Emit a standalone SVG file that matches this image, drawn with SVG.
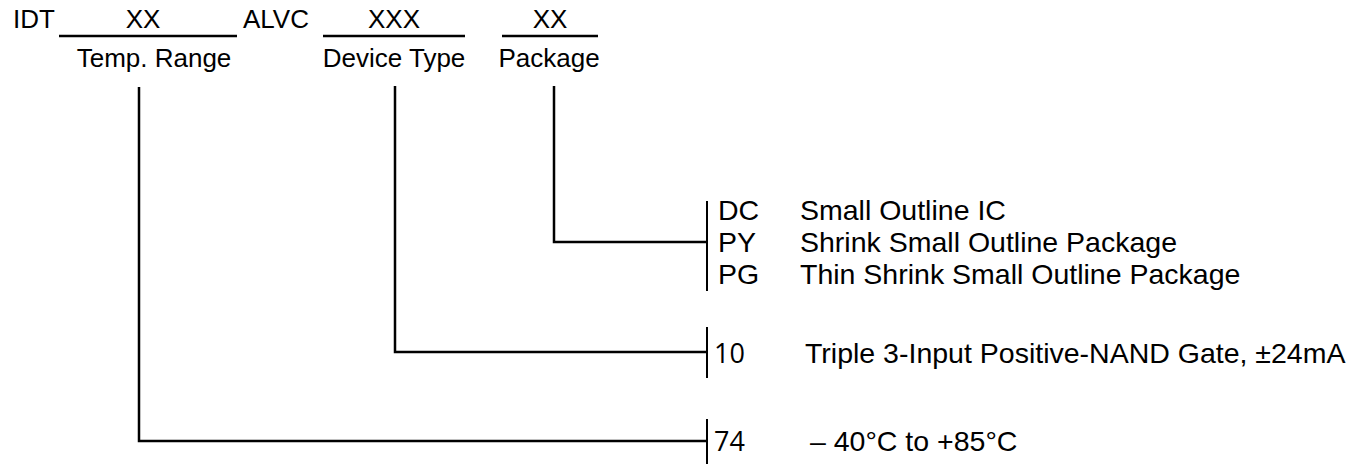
<svg xmlns="http://www.w3.org/2000/svg" width="1360" height="464" viewBox="0 0 1360 464">
<style>
text{font-family:"Liberation Sans",Arial,sans-serif;font-size:26px;fill:#000}
.big{font-size:28.5px}
.num{font-family:"Open Sans","DejaVu Sans",sans-serif;font-size:27px}
.ln{stroke:#000;stroke-width:2.5;fill:none}
.bar{stroke:#000;stroke-width:2;fill:none}
</style>
<rect width="1360" height="464" fill="#fff"/>
<g id="header">
<text x="13" y="28">IDT</text>
<text x="143" y="28" text-anchor="middle">XX</text>
<text x="243" y="28">ALVC</text>
<text x="394" y="28" text-anchor="middle">XXX</text>
<text x="550" y="28" text-anchor="middle">XX</text>
<line class="ln" x1="59" y1="36" x2="237" y2="36"/>
<line class="ln" x1="323" y1="36" x2="465" y2="36"/>
<line class="ln" x1="502" y1="36" x2="598" y2="36"/>
<text x="154" y="67" text-anchor="middle">Temp. Range</text>
<text x="394" y="67" text-anchor="middle">Device Type</text>
<text x="549" y="67" text-anchor="middle">Package</text>
</g>
<g id="connectors">
<polyline class="ln" points="139,87 139,441 707,441"/>
<polyline class="ln" points="395,86 395,352 707,352"/>
<polyline class="ln" points="554,86 554,242 707,242"/>
</g>
<g id="package-options">
<line class="bar" x1="707" y1="201" x2="707" y2="291"/>
<text class="big" x="718" y="220">DC</text>
<text class="big" x="800" y="220">Small Outline IC</text>
<text class="big" x="718" y="252">PY</text>
<text class="big" x="800" y="252">Shrink Small Outline Package</text>
<text class="big" x="718" y="284">PG</text>
<text class="big" x="800" y="284">Thin Shrink Small Outline Package</text>
</g>
<g id="device-options">
<line class="bar" x1="707" y1="327" x2="707" y2="378"/>
<text class="num" x="714" y="363">10</text>
<text class="big" x="805" y="363">Triple 3-Input Positive-NAND Gate, ±24mA</text>
</g>
<g id="temp-options">
<line class="bar" x1="707" y1="419" x2="707" y2="464"/>
<text class="num" x="714" y="451">74</text>
<text class="big" x="810" y="451">– 40°C to +85°C</text>
</g>
</svg>
